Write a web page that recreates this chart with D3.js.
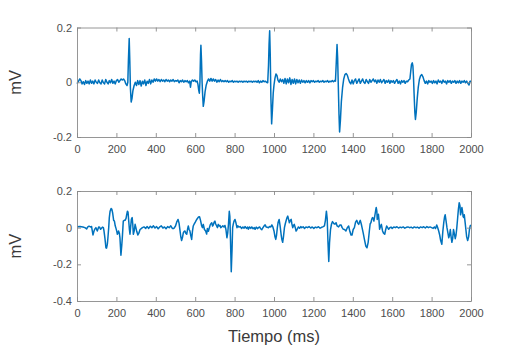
<!DOCTYPE html>
<html>
<head>
<meta charset="utf-8">
<script src="https://d3js.org/d3.v7.min.js"></script>
<style>
  body { margin: 0; background: #fff; }
  text { font-family: "Liberation Sans", Arial, sans-serif; }
</style>
</head>
<body>
<svg id="chart" width="523" height="349"></svg>
<script>
// Eje de tiempo y ticks
const timeTicks = [0, 200, 400, 600, 800, 1000, 1200, 1400, 1600, 1800, 2000];
const topTicks = [-0.2, 0, 0.2];
const bottomTicks = [-0.4, -0.2, 0, 0.2];
const xLabel = "Tiempo (ms)";
const yLabel = "mV";

// Señal superior [ms, mV]
const topSignal = [
  [0,-0.005],[8,0.004],[14,0.012],[20,0.006],[26,-0.006],[32,0.002],[38,-0.008],[44,0.006],[50,-0.004],[56,0.004],
  [62,-0.006],[68,0.008],[74,-0.004],[80,0.004],[86,-0.006],[92,0.008],[98,0.0],[104,-0.004],[110,0.008],[116,-0.002],
  [122,-0.006],[128,0.008],[134,-0.002],[140,-0.006],[146,0.01],[152,0.0],[158,-0.006],[164,0.006],[170,-0.002],[176,0.01],
  [182,-0.004],[188,0.004],[194,-0.006],[200,0.006],[206,0.01],[212,0.0],[218,0.006],[224,0.012],[230,0.008],[236,0.012],
  [242,0.006],[248,-0.006],[254,-0.012],[258,0.0],[261,0.08],[265,0.16],[268,0.08],[271,-0.02],[275,-0.072],[279,-0.06],
  [284,-0.03],[290,-0.012],[296,0.0],[302,-0.012],[308,0.006],[314,-0.008],[320,0.006],[326,-0.014],[332,0.004],[338,-0.006],
  [344,0.008],[350,-0.012],[356,0.004],[362,-0.004],[368,0.01],[374,-0.006],[380,0.008],[386,0.0],[392,0.012],[398,0.004],
  [404,0.012],[410,0.004],[416,0.01],[422,0.002],[428,0.01],[434,0.004],[440,0.008],[446,0.002],[452,0.01],[458,0.004],
  [464,0.008],[470,0.002],[476,0.008],[482,0.004],[488,0.01],[494,0.002],[500,0.006],[506,0.004],[512,0.008],[518,-0.002],
  [524,0.006],[530,0.002],[536,0.008],[542,0.0],[548,0.006],[554,0.002],[560,0.006],[566,-0.002],[572,0.004],[576,-0.018],
  [580,0.002],[586,0.008],[592,0.004],[598,0.008],[604,0.002],[610,0.004],[614,-0.008],[618,-0.03],[621,-0.04],[624,0.0],
  [627,0.1],[629,0.135],[632,0.08],[635,0.0],[638,-0.05],[641,-0.088],[645,-0.07],[650,-0.035],[656,-0.01],[662,0.004],
  [668,0.012],[674,0.004],[680,0.014],[686,0.004],[692,0.012],[698,0.004],[704,0.01],[710,0.0],[716,0.008],[722,0.002],
  [728,0.01],[734,0.002],[740,0.006],[746,0.002],[752,0.006],[758,0.002],[764,0.006],[770,0.0],[776,0.004],[782,0.002],
  [788,0.006],[794,0.0],[800,0.004],[806,0.002],[812,0.004],[818,0.0],[824,0.004],[830,0.002],[836,0.004],[842,0.0],
  [848,0.004],[854,0.002],[860,0.004],[866,0.0],[872,0.004],[878,0.002],[884,0.004],[890,0.0],[896,0.004],[902,0.002],
  [908,0.004],[914,0.0],[920,0.006],[926,-0.002],[932,0.004],[938,0.0],[944,0.006],[950,0.002],[956,0.004],[962,0.0],
  [968,-0.002],[972,0.06],[975,0.14],[978,0.188],[981,0.1],[984,-0.05],[988,-0.152],[992,-0.1],[996,-0.04],[1000,-0.01],
  [1005,0.015],[1010,0.03],[1015,0.025],[1020,0.008],[1026,0.0],[1032,0.012],[1038,0.002],[1044,0.01],[1050,-0.004],[1056,0.014],
  [1062,-0.006],[1068,0.012],[1074,-0.002],[1080,0.016],[1086,-0.008],[1092,0.01],[1098,-0.004],[1104,0.012],[1110,-0.006],[1116,0.01],
  [1122,-0.002],[1128,0.008],[1134,-0.004],[1140,0.008],[1146,0.0],[1152,0.006],[1158,-0.002],[1164,0.006],[1170,0.0],[1176,0.006],
  [1182,-0.002],[1188,0.006],[1194,0.002],[1200,0.006],[1206,0.0],[1212,0.004],[1218,0.002],[1224,0.006],[1230,0.0],[1236,0.004],
  [1242,0.002],[1248,0.006],[1254,0.0],[1260,0.004],[1266,0.002],[1272,0.006],[1278,0.0],[1284,0.004],[1290,0.002],[1296,0.006],
  [1302,0.002],[1308,0.006],[1312,0.004],[1316,0.07],[1320,0.138],[1323,0.09],[1326,0.0],[1330,-0.12],[1333,-0.182],[1337,-0.14],
  [1342,-0.07],[1348,-0.02],[1354,0.012],[1360,0.028],[1366,0.032],[1372,0.026],[1378,0.012],[1384,0.0],[1390,-0.006],[1396,0.008],
  [1402,-0.006],[1408,0.006],[1414,0.012],[1420,-0.004],[1426,0.004],[1432,0.012],[1438,-0.004],[1444,0.004],[1450,0.012],[1456,0.0],
  [1462,-0.004],[1468,0.01],[1474,0.002],[1480,-0.004],[1486,0.01],[1492,0.0],[1498,0.006],[1504,0.012],[1510,0.002],[1516,0.008],
  [1522,-0.004],[1528,0.008],[1534,0.0],[1540,0.01],[1546,-0.002],[1552,0.004],[1558,0.01],[1564,-0.004],[1570,0.006],[1576,0.0],
  [1582,0.008],[1588,-0.004],[1594,0.006],[1600,0.0],[1606,0.006],[1612,-0.004],[1618,0.004],[1624,0.01],[1630,-0.004],[1636,0.004],
  [1642,-0.006],[1648,0.006],[1654,0.0],[1660,0.006],[1666,-0.004],[1672,0.004],[1678,0.002],[1684,0.008],[1690,0.012],[1694,0.04],
  [1698,0.065],[1702,0.071],[1705,0.06],[1708,0.02],[1711,-0.04],[1715,-0.11],[1718,-0.136],[1722,-0.11],[1727,-0.06],[1732,-0.02],
  [1738,0.01],[1744,0.024],[1750,0.028],[1756,0.02],[1762,0.006],[1768,-0.004],[1774,0.004],[1780,-0.006],[1786,0.006],[1792,0.0],
  [1798,0.004],[1804,-0.004],[1810,0.006],[1816,-0.002],[1822,0.004],[1828,-0.006],[1834,0.008],[1840,0.0],[1846,0.004],[1852,-0.004],
  [1858,0.008],[1864,0.0],[1870,0.004],[1876,-0.006],[1882,0.006],[1888,0.0],[1894,0.006],[1900,-0.004],[1906,0.004],[1912,0.0],
  [1918,0.006],[1924,-0.004],[1930,0.004],[1936,-0.002],[1942,0.006],[1948,-0.004],[1954,0.004],[1960,0.0],[1966,0.006],[1972,-0.002],
  [1978,0.004],[1984,-0.004],[1990,-0.01],[1995,0.004],[2000,0.004]
];

// Señal inferior [ms, mV]
const bottomSignal = [
  [0,0.005],[15,0.006],[30,0.004],[40,0.0],[49,-0.007],[55,0.004],[61,0.008],[68,0.004],[74,0.006],[81,-0.04],
  [86,-0.02],[90,-0.008],[96,0.0],[103,-0.018],[110,0.004],[115,0.002],[120,-0.009],[129,0.003],[134,0.0],[137,-0.018],
  [142,-0.06],[147,-0.11],[150,-0.112],[154,-0.09],[157,-0.055],[161,0.0],[164,0.055],[168,0.09],[173,0.105],[177,0.1],
  [181,0.08],[186,0.04],[190,0.036],[194,0.01],[198,-0.004],[202,-0.02],[205,-0.036],[208,-0.03],[211,-0.018],[215,-0.03],
  [218,-0.055],[223,-0.15],[227,-0.1],[230,-0.055],[233,0.0],[235,0.036],[240,0.04],[244,0.04],[249,0.051],[252,0.07],
  [256,0.09],[259,0.085],[262,0.045],[266,-0.01],[269,-0.036],[272,0.0],[276,0.045],[280,0.055],[283,0.02],[286,-0.036],
  [290,-0.02],[295,0.018],[299,0.0],[303,-0.02],[309,-0.04],[314,-0.03],[320,-0.01],[326,-0.005],[332,0.0],[340,0.004],
  [349,-0.004],[356,0.006],[364,-0.004],[372,0.008],[380,0.0],[388,0.01],[396,-0.002],[404,0.006],[412,-0.006],[420,0.004],
  [428,0.01],[436,-0.002],[444,0.004],[452,-0.006],[460,0.006],[468,0.0],[476,0.01],[484,-0.004],[492,-0.004],[500,0.009],
  [506,0.03],[513,0.045],[518,0.025],[523,-0.018],[527,-0.05],[531,-0.07],[535,-0.055],[540,-0.027],[544,-0.02],[548,-0.018],
  [552,-0.03],[557,-0.036],[561,-0.01],[565,0.009],[569,-0.01],[573,-0.018],[577,-0.04],[582,-0.064],[586,-0.02],[590,0.009],
  [595,0.02],[599,0.027],[605,0.04],[611,0.05],[617,0.058],[622,0.06],[627,0.04],[633,0.009],[637,0.0],[641,0.018],
  [647,-0.01],[653,-0.018],[658,-0.035],[662,-0.004],[667,-0.02],[672,0.0],[677,0.018],[684,0.027],[688,0.009],[692,0.016],
  [696,0.03],[700,0.036],[704,0.02],[709,0.009],[713,0.0],[717,0.018],[721,0.009],[726,0.012],[730,0.0],[734,0.004],
  [740,0.01],[746,0.004],[751,0.012],[756,-0.01],[761,-0.055],[765,-0.03],[769,0.02],[773,0.089],[776,0.06],[779,-0.06],
  [783,-0.24],[787,-0.12],[790,0.0],[793,0.018],[797,0.036],[802,0.045],[806,0.03],[812,0.0],[816,0.01],[822,0.003],
  [828,0.006],[836,-0.004],[842,0.004],[848,-0.003],[853,0.006],[860,-0.004],[866,0.003],[870,-0.008],[876,0.004],[882,-0.004],
  [887,0.004],[894,-0.006],[900,0.0],[904,-0.009],[910,0.003],[916,-0.005],[921,0.0],[927,0.004],[932,-0.006],[938,-0.011],
  [944,0.0],[950,0.01],[955,0.015],[960,0.004],[966,0.002],[972,0.0],[978,0.006],[984,0.004],[989,0.015],[994,0.005],
  [1000,-0.018],[1005,-0.05],[1009,-0.064],[1013,-0.04],[1017,0.0],[1021,0.03],[1026,0.045],[1031,0.01],[1036,-0.036],[1040,-0.065],
  [1044,-0.08],[1048,-0.05],[1053,0.0],[1057,0.02],[1061,0.036],[1066,0.055],[1070,0.063],[1074,0.045],[1078,0.027],[1083,0.04],
  [1087,0.045],[1091,0.02],[1095,0.0],[1099,0.012],[1103,0.018],[1108,0.0],[1112,-0.018],[1117,-0.01],[1124,0.004],[1130,-0.003],
  [1136,0.006],[1141,0.0],[1148,0.005],[1155,-0.004],[1162,0.004],[1170,0.0],[1178,0.006],[1186,-0.002],[1194,0.004],[1202,-0.004],
  [1210,0.003],[1218,0.0],[1226,0.005],[1234,-0.003],[1242,0.002],[1250,0.006],[1256,0.01],[1261,0.04],[1266,0.09],[1270,0.05],
  [1274,-0.08],[1278,-0.185],[1282,-0.08],[1287,-0.009],[1292,0.02],[1297,0.033],[1302,0.025],[1306,0.02],[1310,0.02],[1315,0.027],
  [1320,0.01],[1328,0.004],[1334,0.014],[1340,0.015],[1346,0.0],[1352,-0.009],[1358,-0.01],[1365,-0.018],[1372,0.0],[1379,0.009],
  [1385,-0.02],[1391,-0.04],[1396,-0.04],[1402,-0.01],[1408,0.0],[1414,0.03],[1420,0.04],[1425,0.025],[1430,0.018],[1434,0.03],
  [1438,0.04],[1443,0.02],[1447,0.0],[1453,-0.03],[1459,-0.064],[1466,-0.1],[1472,-0.11],[1478,-0.08],[1484,-0.018],[1488,0.02],
  [1492,0.027],[1496,0.045],[1500,0.055],[1504,0.05],[1507,0.036],[1511,0.06],[1514,0.08],[1517,0.1],[1519,0.11],[1522,0.09],
  [1524,0.045],[1527,0.06],[1530,0.073],[1533,0.04],[1536,-0.009],[1540,0.005],[1545,0.018],[1548,0.0],[1551,-0.018],[1556,-0.03],
  [1562,-0.036],[1567,-0.01],[1572,0.009],[1577,0.0],[1582,-0.009],[1588,0.0],[1594,0.003],[1600,-0.004],[1608,0.004],[1616,0.0],
  [1624,0.005],[1632,-0.002],[1640,0.003],[1648,0.0],[1656,0.004],[1664,-0.003],[1672,0.002],[1680,0.004],[1688,0.0],[1696,0.003],
  [1704,-0.002],[1712,0.004],[1720,0.0],[1728,0.003],[1736,-0.003],[1744,0.004],[1752,0.0],[1760,0.005],[1768,-0.002],[1776,0.006],
  [1784,0.0],[1792,0.004],[1800,0.0],[1808,-0.004],[1814,0.004],[1820,-0.005],[1826,0.015],[1831,0.0],[1836,-0.018],[1841,-0.04],
  [1846,-0.07],[1852,-0.09],[1857,-0.02],[1862,0.03],[1866,0.06],[1869,0.07],[1873,0.04],[1878,0.0],[1883,-0.03],[1887,-0.055],
  [1891,-0.04],[1895,-0.01],[1899,-0.05],[1903,-0.08],[1907,-0.06],[1911,-0.01],[1915,-0.03],[1920,-0.06],[1924,-0.04],[1928,0.0],
  [1932,0.05],[1936,0.1],[1940,0.136],[1944,0.12],[1947,0.07],[1950,0.085],[1954,0.11],[1957,0.09],[1960,0.06],[1963,0.055],
  [1966,0.07],[1970,0.03],[1974,-0.01],[1978,-0.05],[1983,-0.07],[1988,-0.05],[1992,-0.01],[1996,0.01],[2000,0.015]
];

const svg = d3.select("#chart");
const left = 77, right = 471;
const axisColor = "#8a8a8a", textColor = "#4d4d4d", lineColor = "#0072BD";

const x = d3.scaleLinear().domain([0, 2000]).range([left, right]);
const fmt = d => d === 0 ? "0" : String(d);

// Dibuja un panel (ejes con caja + señal)
function drawPanel(signal, yDomain, yTicks, top, bottom) {
  const y = d3.scaleLinear().domain(yDomain).range([bottom, top]);
  const g = svg.append("g");

  g.append("path")
    .datum(signal)
    .attr("fill", "none")
    .attr("stroke", lineColor)
    .attr("stroke-width", 1.5)
    .attr("stroke-linejoin", "round")
    .attr("d", d3.line().x(d => x(d[0])).y(d => y(d[1])));

  const axes = [
    { ax: d3.axisBottom(x).tickValues(timeTicks).tickFormat(fmt).tickPadding(8), t: `translate(0,${bottom})` },
    { ax: d3.axisTop(x).tickValues(timeTicks).tickFormat(""), t: `translate(0,${top})` },
    { ax: d3.axisLeft(y).tickValues(yTicks).tickFormat(fmt).tickPadding(5), t: `translate(${left},0)` },
    { ax: d3.axisRight(y).tickValues(yTicks).tickFormat(""), t: `translate(${right},0)` }
  ];
  axes.forEach(a => {
    const ag = g.append("g")
      .attr("transform", a.t)
      .call(a.ax.tickSizeInner(-4).tickSizeOuter(0));
    ag.select(".domain").attr("stroke", axisColor).attr("stroke-width", 0.9);
    ag.selectAll(".tick line").attr("stroke", axisColor).attr("stroke-width", 0.9);
    ag.selectAll(".tick text")
      .attr("fill", textColor)
      .attr("font-size", "11px")
      .attr("font-family", "'Liberation Sans', Arial, sans-serif");
  });

  g.append("text")
    .attr("transform", `translate(21,${(top + bottom) / 2}) rotate(-90)`)
    .attr("text-anchor", "middle")
    .attr("fill", "#3a3a3a")
    .attr("font-size", "16.5px")
    .text(yLabel);
}

drawPanel(topSignal, [-0.2, 0.2], topTicks, 27.5, 137);
drawPanel(bottomSignal, [-0.4, 0.2], bottomTicks, 191, 301);

svg.append("text")
  .attr("x", (left + right) / 2)
  .attr("y", 342)
  .attr("text-anchor", "middle")
  .attr("fill", "#3a3a3a")
  .attr("font-size", "16.5px")
  .text(xLabel);
</script>
</body>
</html>
